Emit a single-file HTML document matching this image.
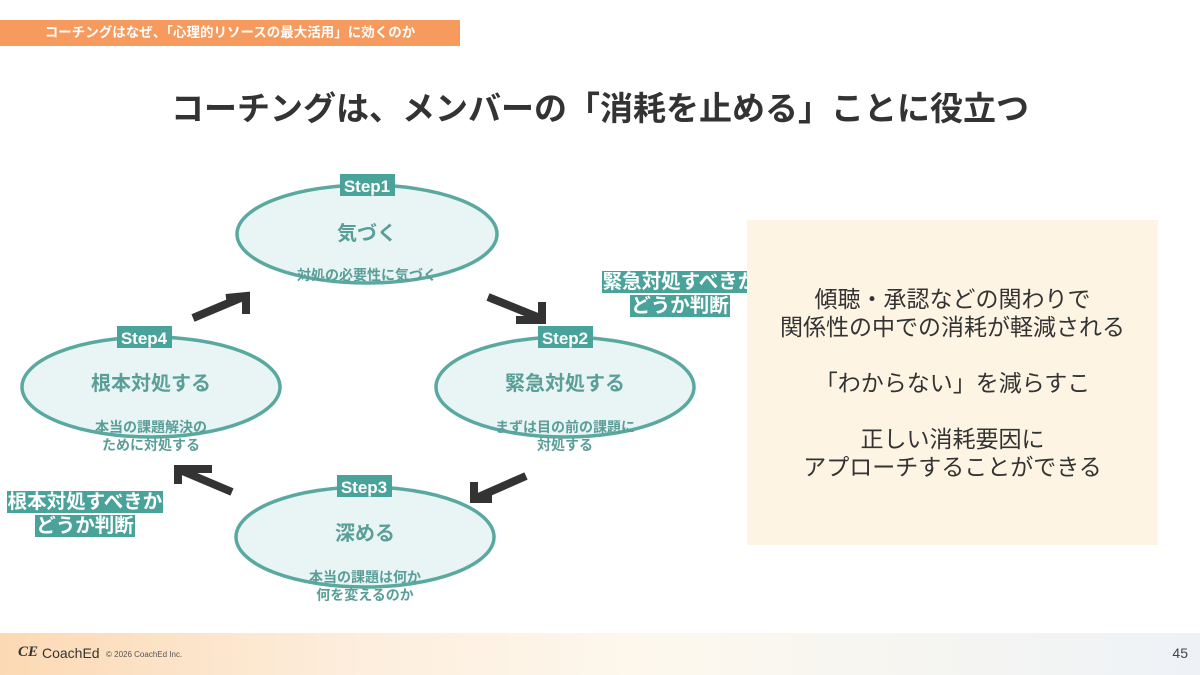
<!DOCTYPE html>
<html><head><meta charset="utf-8"><style>
body{margin:0;width:1200px;height:675px;position:relative;overflow:hidden;background:#fff;font-family:"Liberation Sans","Noto Sans CJK JP",sans-serif;}
.tag{position:absolute;left:0;top:20px;width:460px;height:26px;background:#f79a5e;color:#fff;font-size:13.5px;font-weight:bold;line-height:26px;text-align:center;}
.title{position:absolute;left:0;width:1200px;top:82px;text-align:center;font-size:33px;font-weight:bold;color:#333;}
.box{position:absolute;left:747px;top:220px;width:411px;height:325px;background:#fdf4e3;color:#333;font-size:23px;text-align:center;display:flex;align-items:center;justify-content:center;line-height:28px;}
.lbl{position:absolute;text-align:center;font-size:19.5px;font-weight:bold;color:#fff;line-height:24px;}
.lbl span{background:#4aa39b;padding:0 1px;}
.footer{position:absolute;left:0;top:633px;width:1200px;height:42px;background:linear-gradient(90deg,#fcd9b4 0%,#fdeedd 30%,#fdf8ee 55%,#eef2f6 100%);}
</style></head><body>
<div class="tag">コーチングはなぜ、「心理的リソースの最大活用」に効くのか</div>
<div class="title">コーチングは、メンバーの「消耗を止める」ことに役立つ</div>
<svg width="1200" height="675" style="position:absolute;left:0;top:0">
<g fill="#e9f4f4" stroke="#5aa9a0" stroke-width="3.5">
<ellipse cx="367" cy="234" rx="130" ry="49"/>
<ellipse cx="565" cy="387" rx="129" ry="50"/>
<ellipse cx="151" cy="387" rx="129" ry="50"/>
<ellipse cx="365" cy="537" rx="129" ry="50"/>
</g>
<g fill="#4aa39b">
<rect x="340" y="174" width="55" height="22"/>
<rect x="538" y="326" width="55" height="22"/>
<rect x="117" y="326" width="55" height="22"/>
<rect x="337" y="475" width="55" height="22"/>
</g>
<g fill="#fff" font-size="17" font-weight="bold" text-anchor="middle" font-family="Liberation Sans,sans-serif">
<text x="367" y="192">Step1</text><text x="565" y="344">Step2</text><text x="144" y="344">Step4</text><text x="364" y="493">Step3</text>
</g>
<g fill="#5a9e98" font-weight="bold" text-anchor="middle" font-family="Liberation Sans,Noto Sans CJK JP,sans-serif">
<text x="367" y="240" font-size="20">気づく</text>
<text x="367" y="280" font-size="14">対処の必要性に気づく</text>
<text x="565" y="390" font-size="20">緊急対処する</text>
<text x="565" y="432" font-size="14">まずは目の前の課題に</text>
<text x="565" y="450" font-size="14">対処する</text>
<text x="151" y="390" font-size="20">根本対処する</text>
<text x="151" y="432" font-size="14">本当の課題解決の</text>
<text x="151" y="450" font-size="14">ために対処する</text>
<text x="365" y="540" font-size="20">深める</text>
<text x="365" y="582" font-size="14">本当の課題は何か</text>
<text x="365" y="600" font-size="14">何を変えるのか</text>
</g>
<g stroke="#333" stroke-width="8" fill="none" stroke-linecap="butt" stroke-linejoin="miter">
<line x1="193" y1="318" x2="243" y2="297"/><polyline points="226,298 246,296 246,314"/>
<line x1="488" y1="297" x2="540" y2="318"/><polyline points="516,320 542,320 542,302"/>
<line x1="526" y1="476" x2="476" y2="498"/><polyline points="474,482 474,499 492,499"/>
<line x1="232" y1="492" x2="180" y2="470"/><polyline points="212,469 178,469 178,484"/>
</g>
</svg>
<div class="lbl" style="left:580px;top:270px;width:200px"><span>緊急対処すべきか</span><br><span>どうか判断</span></div>
<div class="lbl" style="left:-15px;top:490px;width:200px"><span>根本対処すべきか</span><br><span>どうか判断</span></div>
<div class="box"><div>傾聴・承認などの関わりで<br>関係性の中での消耗が軽減される<br><br>「わからない」を減らすこ<br><br>正しい消耗要因に<br>アプローチすることができる</div></div>
<div class="footer">
<div style="position:absolute;left:18px;top:11px;font-size:15px;color:#333;font-weight:bold;font-style:italic;font-family:'Liberation Serif',serif">CE</div>
<div style="position:absolute;left:42px;top:12px;font-size:14px;color:#333">CoachEd</div>
<div style="position:absolute;left:106px;top:17px;font-size:8px;color:#555">© 2026 CoachEd Inc.</div>
<div style="position:absolute;right:12px;top:12px;font-size:14px;color:#444">45</div>
</div>
</body></html>
